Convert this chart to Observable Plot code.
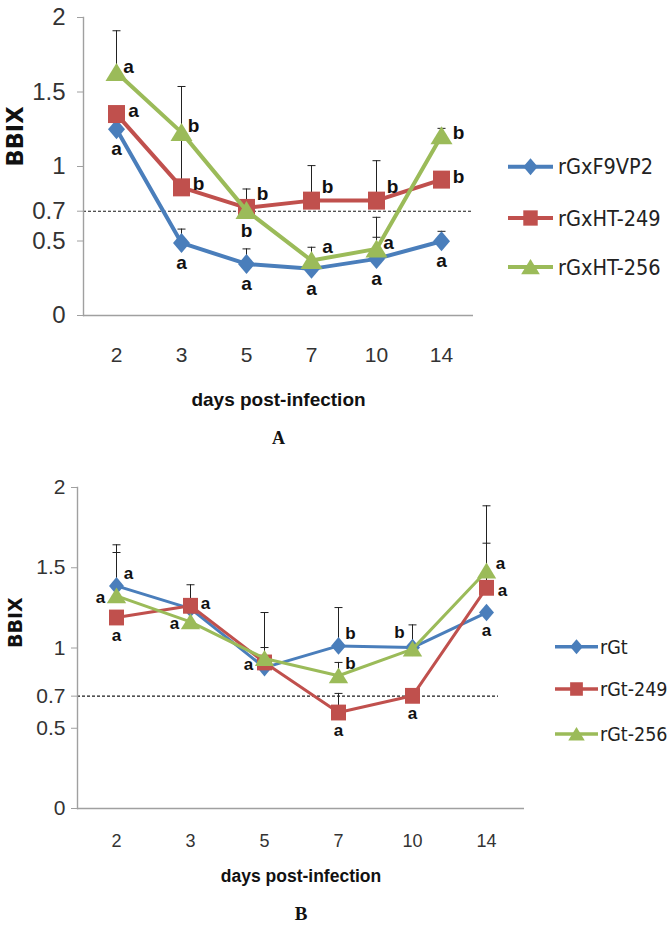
<!DOCTYPE html>
<html><head><meta charset="utf-8">
<script src="https://cdn.jsdelivr.net/npm/d3@7"></script>
<script src="https://cdn.jsdelivr.net/npm/@observablehq/plot@0.6"></script>
<style>
body{margin:0;background:#fff;}
#root{width:672px;height:926px;position:relative;overflow:hidden;background:#fff;}
.panel{position:relative;width:672px;}
.panel > svg{display:block;}
.legend{position:absolute;left:0;top:0;pointer-events:none;}
</style></head><body><div id="root"></div>
<script>
// ---------- shared ----------
const days = ["2", "3", "5", "7", "10", "14"];
const yTicks = [0, 0.5, 0.7, 1, 1.5, 2];
const threshold = 0.7;
const xTitle = "days post-infection";
const yTitle = "BBIX";

// ---------- panel A ----------
const namesA = ["rGxF9VP2", "rGxHT-249", "rGxHT-256"];
const meanA_F9VP2 = [1.25, 0.487, 0.346, 0.313, 0.38, 0.498];
const meanA_HT249 = [1.352, 0.86, 0.722, 0.771, 0.771, 0.912];
const meanA_HT256 = [1.631, 1.229, 0.704, 0.369, 0.447, 1.207];
const errTopA_F9VP2 = [null, 0.58, 0.447, null, 0.525, 0.565];
const errTopA_HT249 = [null, 1.537, null, 1.006, 1.039, null];
const errTopA_HT256 = [1.911, null, 0.849, 0.458, 0.659, 1.256];
const letterA_F9VP2 = ["a", "a", "a", "a", "a", "a"];
const letterA_HT249 = ["a", "b", "b", "b", "b", "b"];
const letterA_HT256 = ["a", "b", "b", "a", "a", "b"];
const placeA_F9VP2 = ["b", "b", "b", "b", "b", "b"];
const placeA_HT249 = ["r", "r", "ru", "ru", "ru", "r"];
const placeA_HT256 = ["rm", "rm", "b", "ru", "rm", "r"];

// ---------- panel B ----------
const namesB = ["rGt", "rGt-249", "rGt-256"];
const meanB_Gt = [1.387, 1.245, 0.878, 1.013, 1.003, 1.221];
const meanB_Gt249 = [1.19, 1.263, 0.91, 0.598, 0.702, 1.375];
const meanB_Gt256 = [1.325, 1.163, 0.935, 0.827, 0.993, 1.48];
const errTopB_Gt = [1.643, null, 1.003, 1.252, 1.144, null];
const errTopB_Gt249 = [null, 1.394, 1.221, 0.717, null, 1.653];
const errTopB_Gt256 = [1.595, null, null, 0.91, null, 1.886];
const letterB_Gt = ["a", "", "", "b", "b", "a"];
const letterB_Gt249 = ["a", "a", "a", "a", "a", "a"];
const letterB_Gt256 = ["a", "a", "", "b", "", "a"];
const placeB_Gt = ["ru", "", "", "ru", "lu", "b"];
const placeB_Gt249 = ["b", "r", "l", "b", "b", "rd"];
const placeB_Gt256 = ["l", "l", "", "ru", "", "rh"];

const colors = ["#4A7EBB", "#C0504D", "#9BBB59"];

// ---------- custom Excel-like markers ----------
const diamondSym = {draw(ctx, size) { const k = Math.sqrt(size / Math.PI);
  ctx.moveTo(0, -10 * k); ctx.lineTo(8.5 * k, 0); ctx.lineTo(0, 10 * k); ctx.lineTo(-8.5 * k, 0); ctx.closePath(); }};
const squareSym = {draw(ctx, size) { const k = Math.sqrt(size / Math.PI);
  ctx.rect(-8.5 * k, -9 * k, 17 * k, 18 * k); }};
const triangleSym = {draw(ctx, size) { const k = Math.sqrt(size / Math.PI);
  ctx.moveTo(0, -9.5 * k); ctx.lineTo(11 * k, 8.5 * k); ctx.lineTo(-11 * k, 8.5 * k); ctx.closePath(); }};
const capSym = {draw(ctx, size) { ctx.moveTo(-4, 0); ctx.lineTo(4, 0); }};
const symbols = [diamondSym, squareSym, triangleSym];

const narrow = "'Liberation Sans Narrow', 'DejaVu Sans Condensed', sans-serif";
const sans = "'Liberation Sans', Arial, sans-serif";

function makeRows(names, means, tops, letters, places) {
  return names.flatMap((name, s) => days.map((day, i) => ({
    series: name, s, day, value: means[s][i], top: tops[s][i],
    letter: letters[s][i], place: places[s][i]
  })));
}

function panel(cfg) {
  const rows = makeRows(cfg.names, cfg.means, cfg.tops, cfg.letters, cfg.places);
  const errRows = rows.filter(d => d.top != null);
  const marks = [
    Plot.ruleY([threshold], {stroke: "#1a1a1a", strokeWidth: 1.1, strokeDasharray: "3,2", insetRight: cfg.dashInsetRight}),
    Plot.ruleY([0], {stroke: "#a0a0a0", strokeWidth: 1.4}),
    Plot.frame({anchor: "left", stroke: "#a0a0a0", strokeWidth: 1.4}),
    Plot.axisY({ticks: yTicks, tickFormat: d => String(d), tickSize: 6, tickPadding: cfg.yPad,
      stroke: "#a0a0a0", fill: "#333", fontSize: cfg.yFont, fontFamily: sans, label: null}),
    Plot.axisX({tickSize: 0, tickPadding: cfg.xPad, fill: "#333", fontSize: cfg.xFont, fontFamily: sans, label: null}),
    Plot.ruleX(errRows, {x: "day", y1: "value", y2: "top", stroke: "#222", strokeWidth: 1}),
    Plot.dot(errRows, {x: "day", y: "top", symbol: capSym, r: 1, stroke: "#222", strokeWidth: 1, fill: "none"})
  ];
  cfg.names.forEach((name, s) => {
    const sr = rows.filter(d => d.s === s);
    marks.push(Plot.line(sr, {x: "day", y: "value", stroke: colors[s], strokeWidth: cfg.lineWidth}));
    marks.push(Plot.dot(sr, {x: "day", y: "value", symbol: symbols[s], r: cfg.symScale, fill: colors[s], stroke: "none"}));
  });
  Object.entries(cfg.offsets).forEach(([code, [dx, dy]]) => {
    marks.push(Plot.text(rows.filter(d => d.letter && d.place === code), {
      x: "day", y: "value", text: "letter", dx, dy, fontWeight: "bold", fontSize: cfg.letterFont,
      fontFamily: sans, fill: "#111", lineAnchor: "middle"}));
  });
  marks.push(Plot.text([xTitle], {text: d => d, frameAnchor: "bottom", dy: cfg.titleDy, fontWeight: "bold",
    fontSize: cfg.titleFont, fontFamily: sans, fill: "#111", lineAnchor: "middle"}));
  marks.push(Plot.text([yTitle], {text: d => d, frameAnchor: "left", dx: cfg.bbixDx, rotate: -90, fontWeight: "bold",
    fontSize: cfg.bbixFont, fontFamily: "'DejaVu Sans', sans-serif", fill: "#111", lineAnchor: "middle"}));
  marks.push(Plot.text([cfg.panelLetter], {text: d => d, frameAnchor: "bottom", dy: cfg.panelDy, fontWeight: "bold",
    fontSize: cfg.panelFont, fontFamily: "'Liberation Serif', 'DejaVu Serif', serif", fill: "#111", lineAnchor: "middle"}));

  const chart = Plot.plot({
    width: 672, height: cfg.height,
    marginTop: cfg.mt, marginBottom: cfg.mb, marginLeft: cfg.ml, marginRight: cfg.mr,
    x: {type: "point", domain: days, padding: 0.5},
    y: {domain: [0, 2]},
    style: {fontFamily: sans, background: "#fff", overflow: "visible"},
    marks
  });
  const wrap = document.createElement("div");
  wrap.className = "panel";
  wrap.style.height = cfg.height + "px";
  wrap.appendChild(chart);

  // legend (HTML-positioned SVG overlay to the right of the plot)
  const lg = d3.select(wrap).append("svg").attr("class", "legend").attr("width", 672).attr("height", cfg.height);
  cfg.names.forEach((name, s) => {
    const g = lg.append("g").attr("transform", `translate(0,${cfg.legend.ys[s]})`);
    g.append("line").attr("x1", cfg.legend.x0).attr("x2", cfg.legend.x1)
      .attr("stroke", colors[s]).attr("stroke-width", cfg.legend.lineWidth);
    g.append("path").attr("d", d3.symbol(symbols[s], Math.PI * cfg.legend.k * cfg.legend.k)())
      .attr("transform", `translate(${(cfg.legend.x0 + cfg.legend.x1) / 2},0)`).attr("fill", colors[s]);
    g.append("text").attr("x", cfg.legend.tx).attr("dy", "0.36em").attr("fill", "#222")
      .style("font-family", narrow).style("font-size", cfg.legend.font + "px").text(name);
  });
  return wrap;
}

const root = document.getElementById("root");
root.appendChild(panel({
  names: namesA,
  means: [meanA_F9VP2, meanA_HT249, meanA_HT256],
  tops: [errTopA_F9VP2, errTopA_HT249, errTopA_HT256],
  letters: [letterA_F9VP2, letterA_HT249, letterA_HT256],
  places: [placeA_F9VP2, placeA_HT249, placeA_HT256],
  offsets: {r: [17, -3], rm: [12, -6], ru: [16, -14], b: [0, 20]},
  height: 460, mt: 17, mb: 145, ml: 83, mr: 199,
  lineWidth: 4, symScale: 1, yFont: 24, xFont: 21, yPad: 12, xPad: 32,
  letterFont: 19, titleDy: 84, titleFont: 19, bbixDx: -67.5, bbixFont: 22.5,
  panelLetter: "A", panelDy: 123, panelFont: 18, dashInsetRight: 1,
  legend: {ys: [166.7, 218, 267], x0: 508, x1: 553, tx: 558, k: 0.85, font: 21.5, lineWidth: 4}
}));
root.appendChild(panel({
  names: namesB,
  means: [meanB_Gt, meanB_Gt249, meanB_Gt256],
  tops: [errTopB_Gt, errTopB_Gt249, errTopB_Gt256],
  letters: [letterB_Gt, letterB_Gt249, letterB_Gt256],
  places: [placeB_Gt, placeB_Gt249, placeB_Gt256],
  offsets: {r: [15, -2], rh: [14, -7], rd: [16, 3], ru: [12, -12], l: [-16, 2], lu: [-13, -15], b: [0, 18]},
  height: 466, mt: 27, mb: 118, ml: 77, mr: 148,
  lineWidth: 3, symScale: 0.88, yFont: 21, xFont: 18, yPad: 6, xPad: 26,
  letterFont: 17, titleDy: 68, titleFont: 17.5, bbixDx: -62, bbixFont: 19,
  panelLetter: "B", panelDy: 105, panelFont: 19, dashInsetRight: 26,
  legend: {ys: [186.7, 229, 274], x0: 555, x1: 598, tx: 600, k: 0.75, font: 19.5, lineWidth: 3.5}
}));
</script></body></html>
